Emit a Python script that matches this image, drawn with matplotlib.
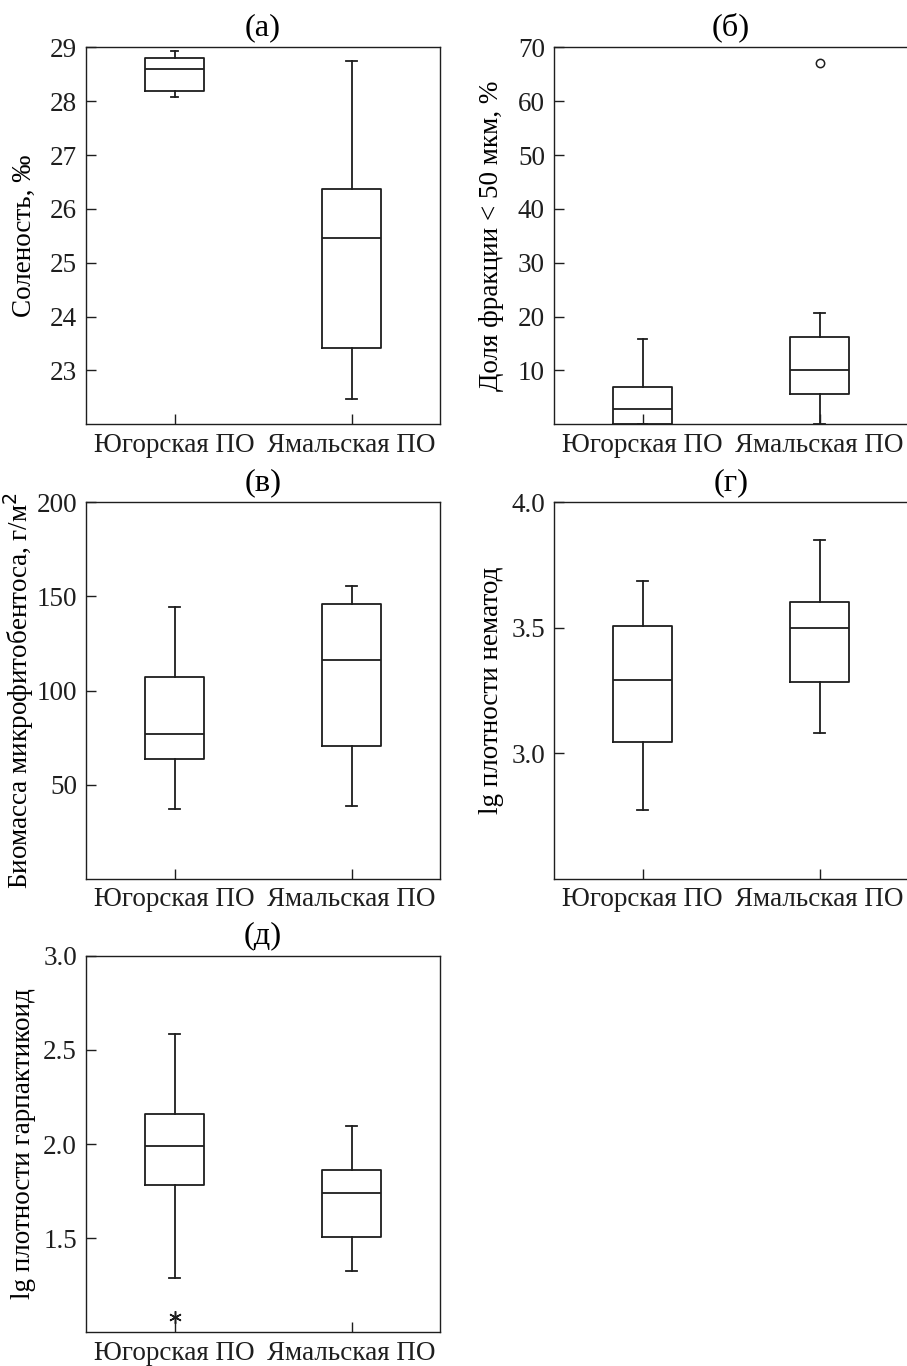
import numpy as np
import matplotlib.pyplot as plt

plt.rcParams['font.family'] = ['Liberation Serif', 'DejaVu Serif']
plt.rcParams['font.size'] = 19.5

groups = ['Югорская ПО', 'Ямальская ПО']

# (а) соленость
sal_lo = [28.08, 22.47]
sal_q1 = [28.19, 23.42]
sal_med = [28.60, 25.46]
sal_q3 = [28.80, 26.37]
sal_hi = [28.93, 28.75]

# (б) доля фракции < 50 мкм
frac_lo = [0.0, 0.0]
frac_q1 = [0.0, 5.7]
frac_med = [2.8, 10.0]
frac_q3 = [7.0, 16.2]
frac_hi = [15.8, 20.6]
frac_out = [[], [67.1]]

# (в) биомасса микрофитобентоса
bio_lo = [37.0, 39.0]
bio_q1 = [63.7, 70.6]
bio_med = [77.0, 116.5]
bio_q3 = [107.2, 146.0]
bio_hi = [144.2, 155.7]

# (г) lg плотности нематод
nem_lo = [2.775, 3.081]
nem_q1 = [3.045, 3.285]
nem_med = [3.293, 3.500]
nem_q3 = [3.509, 3.603]
nem_hi = [3.688, 3.849]

# (д) lg плотности гарпактикоид
har_lo = [1.287, 1.327]
har_q1 = [1.783, 1.504]
har_med = [1.989, 1.740]
har_q3 = [2.158, 1.863]
har_hi = [2.584, 2.096]
har_out = [[1.082], []]

W, H = 907, 1366
fig = plt.figure(figsize=(W / 100, H / 100), dpi=100)

ink = '#1e1e1e'


def make_ax(left, top, bottom):
    return fig.add_axes([left / W, 1 - bottom / H, 354 / W, (bottom - top) / H])


def draw(ax, lo, q1, med, q3, hi, fliers=None, caps=0.065, fmarker='o'):
    stats = []
    for i in range(len(groups)):
        stats.append(dict(whislo=lo[i], q1=q1[i], med=med[i], q3=q3[i],
                          whishi=hi[i],
                          fliers=fliers[i] if fliers else []))
    ls = dict(color=ink, linewidth=1.3)
    ax.bxp(stats, positions=[1, 2], widths=0.335, capwidths=caps,
           boxprops=ls, whiskerprops=ls, capprops=ls, medianprops=ls,
           flierprops=dict(marker=fmarker, markersize=9 if fmarker != 'o' else 6,
                           markerfacecolor='white', markeredgecolor=ink,
                           markeredgewidth=1.1, linestyle='none'))
    ax.set_xlim(0.5, 2.5)
    ax.set_xticks([1, 2])
    ax.set_xticklabels(groups)
    ax.tick_params(axis='both', direction='in', length=7.5, width=1.0,
                   colors=ink, labelcolor=ink)
    ax.tick_params(axis='y', pad=6.5)
    ax.tick_params(axis='x', pad=6)
    for s in ax.spines.values():
        s.set_color(ink)
        s.set_linewidth(1.0)
    ax.yaxis.set_label_coords(-0.14, 0.5)


ax1 = make_ax(86, 47.3, 424.3)
draw(ax1, sal_lo, sal_q1, sal_med, sal_q3, sal_hi, caps=[0.036, 0.06])
ax1.set_ylim(22, 29)
ax1.set_yticks(np.arange(23, 30))
ax1.set_ylabel('Соленость, ‰')
ax1.set_title('(а)', pad=9)

ax2 = make_ax(554, 47.3, 424.3)
draw(ax2, frac_lo, frac_q1, frac_med, frac_q3, frac_hi, fliers=frac_out,
     caps=[0.047, 0.06])
ax2.set_ylim(0, 70)
ax2.set_yticks(np.arange(10, 71, 10))
ax2.set_ylabel('Доля фракции < 50 мкм, %')
ax2.set_title('(б)', pad=9)

ax3 = make_ax(86, 502.3, 879)
draw(ax3, bio_lo, bio_q1, bio_med, bio_q3, bio_hi)
ax3.set_ylim(0, 200)
ax3.set_yticks([50, 100, 150, 200])
ax3.set_ylabel('Биомасса микрофитобентоса, г/м$^2$')
ax3.set_title('(в)', pad=9)

ax4 = make_ax(554, 502.3, 879)
draw(ax4, nem_lo, nem_q1, nem_med, nem_q3, nem_hi)
ax4.set_ylim(2.5, 4.0)
ax4.set_yticks([3.0, 3.5, 4.0])
ax4.set_yticklabels(['3.0', '3.5', '4.0'])
ax4.set_ylabel('lg плотности нематод')
ax4.set_title('(г)', pad=9)

ax5 = make_ax(86, 955.7, 1332.3)
draw(ax5, har_lo, har_q1, har_med, har_q3, har_hi, fliers=har_out,
     fmarker=(6, 2, 0))
ax5.set_ylim(1.0, 3.0)
ax5.set_yticks([1.5, 2.0, 2.5, 3.0])
ax5.set_yticklabels(['1.5', '2.0', '2.5', '3.0'])
ax5.set_ylabel('lg плотности гарпактикоид')
ax5.set_title('(д)', pad=9)

fig.savefig('out.png', dpi=100, facecolor='white')
